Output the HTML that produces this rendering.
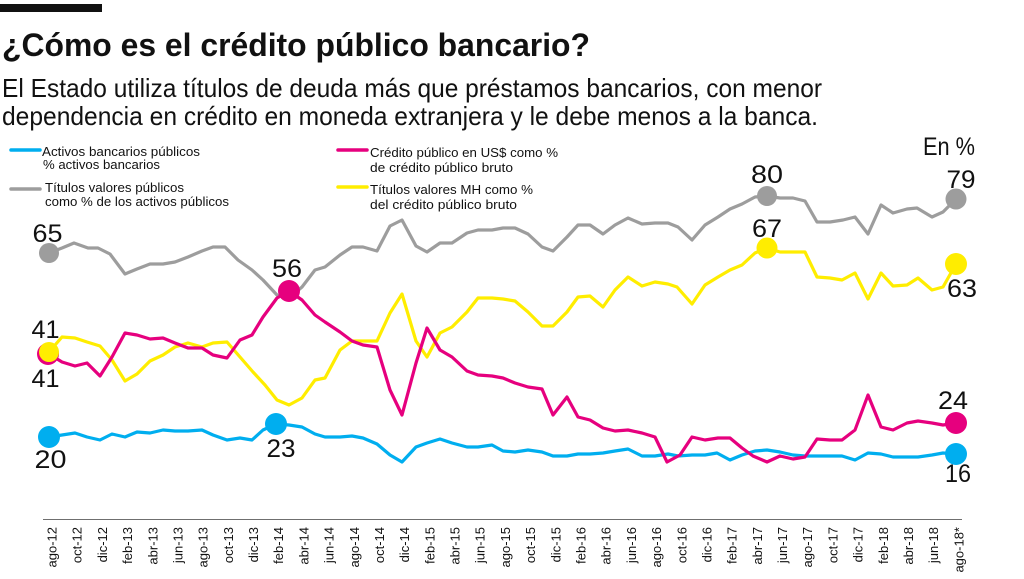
<!DOCTYPE html>
<html>
<head>
<meta charset="utf-8">
<style>
  html, body { margin: 0; padding: 0; background: #fff; }
  body { width: 1024px; height: 579px; overflow: hidden; }
  svg { display: block; }
  text { font-family: "Liberation Sans", "DejaVu Sans", sans-serif; fill: #111; }
</style>
</head>
<body>
<svg width="1024" height="579" viewBox="0 0 1024 579" xmlns="http://www.w3.org/2000/svg">
  <rect x="0" y="0" width="1024" height="579" fill="#fff"/>
  <!-- top bar -->
  <rect x="0" y="4" width="102" height="8" fill="#111"/>

  <!-- title -->
  <text x="2" y="56" font-size="32" font-weight="bold" textLength="588" lengthAdjust="spacingAndGlyphs">¿Cómo es el crédito público bancario?</text>
  <!-- subtitle -->
  <text x="2" y="97" font-size="26" fill="#1a1a1a" textLength="820" lengthAdjust="spacingAndGlyphs">El Estado utiliza títulos de deuda más que préstamos bancarios, con menor</text>
  <text x="2" y="125" font-size="26" fill="#1a1a1a" textLength="816" lengthAdjust="spacingAndGlyphs">dependencia en crédito en moneda extranjera y le debe menos a la banca.</text>

  <text x="923" y="155" font-size="25" textLength="52" lengthAdjust="spacingAndGlyphs">En %</text>

  <!-- legend -->
  <line x1="11" y1="150" x2="40" y2="150" stroke="#00aeef" stroke-width="3.5" stroke-linecap="round"/>
  <line x1="11" y1="189" x2="40" y2="189" stroke="#9d9d9d" stroke-width="3.5" stroke-linecap="round"/>
  <line x1="338" y1="150" x2="367" y2="150" stroke="#e6007e" stroke-width="3.5" stroke-linecap="round"/>
  <line x1="338" y1="187" x2="367" y2="187" stroke="#ffed00" stroke-width="3.5" stroke-linecap="round"/>

  <g font-size="13">
    <text x="42" y="156" textLength="158" lengthAdjust="spacingAndGlyphs">Activos bancarios públicos</text>
    <text x="43" y="169" textLength="117" lengthAdjust="spacingAndGlyphs">% activos bancarios</text>
    <text x="45" y="192" textLength="139" lengthAdjust="spacingAndGlyphs">Títulos valores públicos</text>
    <text x="45" y="206" textLength="184" lengthAdjust="spacingAndGlyphs">como % de los activos públicos</text>
    <text x="370" y="157" textLength="188" lengthAdjust="spacingAndGlyphs">Crédito público en US$ como %</text>
    <text x="370" y="172" textLength="143" lengthAdjust="spacingAndGlyphs">de crédito público bruto</text>
    <text x="370" y="194" textLength="163" lengthAdjust="spacingAndGlyphs">Títulos valores MH como %</text>
    <text x="370" y="209" textLength="147" lengthAdjust="spacingAndGlyphs">del crédito público bruto</text>
  </g>

  <!-- series -->
  <g fill="none" stroke-width="3.2" stroke-linejoin="round" stroke-linecap="round">
    <polyline stroke="#9d9d9d" points="49,253 62,248 74,243 88,248 98,248 110,254 125,274 137,269 150,264 163,264 175,262 188,257 202,251 213,247 225,247 238,260 252,270 263,280 277,295 289,298 302,287 315,270 325,267 340,255 352,247 363,247 377,251 390,226 402,220 416,246 427,252 440,243 452,243 467,233 478,230 492,230 503,228 515,228 528,234 542,247 553,251 567,237 578,225 590,225 603,234 615,225 628,218 642,224 655,223 668,223 678,227 692,240 705,225 718,217 730,209 742,204 755,197 767,196 780,198 793,198 805,201 817,222 830,222 843,220 855,217 868,234 881,205 893,213 907,209 917,208 932,217 943,212 956,199"/>
    <polyline stroke="#00aeef" points="49,437 62,435 75,433 87,437 100,440 112,434 125,437 137,432 150,433 163,430 175,431 188,431 202,430 213,435 227,440 240,438 252,440 263,430 276,424 289,425 302,427 315,434 325,437 340,437 352,436 363,438 377,444 390,455 402,462 416,447 427,443 440,439 452,443 467,447 478,447 492,445 503,451 515,452 528,450 542,452 553,456 567,456 578,454 590,454 603,453 615,451 628,449 642,456 655,456 668,454 678,456 692,455 705,455 717,453 730,460 742,455 755,451 767,450 780,452 793,455 805,456 817,456 830,456 842,456 855,460 868,453 881,454 893,457 907,457 918,457 932,455 943,453 956,454"/>
    <polyline stroke="#ffed00" points="49,352 62,337 75,338 87,342 100,346 112,360 125,381 137,374 150,361 163,355 175,347 188,343 202,347 213,343 227,342 240,357 253,372 265,385 277,400 289,405 302,398 315,380 325,378 340,350 352,341 363,341 377,341 390,313 402,294 416,341 427,357 440,333 452,327 467,312 478,298 492,298 503,299 515,301 528,312 542,326 553,326 567,312 578,297 590,296 603,307 615,290 628,277 642,286 655,282 668,284 677,287 692,304 705,285 718,277 730,270 742,265 755,253 767,248 780,252 793,252 805,252 817,277 830,278 842,280 855,273 868,299 881,273 893,286 907,285 918,278 932,290 943,287 956,264"/>
    <polyline stroke="#e6007e" points="49,354 62,362 75,366 87,363 100,376 112,357 125,333 137,335 150,339 163,338 175,343 188,348 202,348 213,355 227,358 240,340 252,335 263,317 277,298 289,291 302,300 315,315 325,322 340,332 352,341 363,345 377,347 390,390 402,415 416,363 427,328 440,350 452,357 467,371 478,375 492,376 503,378 515,383 528,387 542,389 553,415 567,397 578,417 590,420 603,428 615,431 628,430 642,433 655,437 667,462 680,455 692,437 705,440 718,438 730,438 742,448 753,456 767,462 780,456 793,459 805,457 817,439 830,440 842,440 855,430 868,395 881,427 893,430 907,423 918,421 932,423 943,425 956,423"/>
  </g>

  <!-- markers -->
  <circle cx="49" cy="253" r="10" fill="#9d9d9d"/>
  <circle cx="767" cy="196" r="10" fill="#9d9d9d"/>
  <circle cx="956" cy="199" r="10.5" fill="#9d9d9d"/>
  <circle cx="48" cy="354" r="11" fill="#e6007e"/>
  <circle cx="49" cy="352" r="10" fill="#ffed00"/>
  <circle cx="289" cy="291" r="11" fill="#e6007e"/>
  <circle cx="767" cy="248" r="10.5" fill="#ffed00"/>
  <circle cx="956" cy="264" r="11" fill="#ffed00"/>
  <circle cx="956" cy="423" r="11" fill="#e6007e"/>
  <circle cx="49" cy="437" r="11" fill="#00aeef"/>
  <circle cx="276" cy="424" r="11" fill="#00aeef"/>
  <circle cx="956" cy="454" r="11" fill="#00aeef"/>

  <!-- value labels -->
  <g font-size="25" text-anchor="middle">
    <text x="47.5" y="242" textLength="30" lengthAdjust="spacingAndGlyphs">65</text>
    <text x="45.5" y="338" textLength="28" lengthAdjust="spacingAndGlyphs">41</text>
    <text x="45.5" y="387" textLength="28" lengthAdjust="spacingAndGlyphs">41</text>
    <text x="50.5" y="468" textLength="32" lengthAdjust="spacingAndGlyphs">20</text>
    <text x="287" y="277" textLength="30" lengthAdjust="spacingAndGlyphs">56</text>
    <text x="281" y="457" textLength="29" lengthAdjust="spacingAndGlyphs">23</text>
    <text x="767" y="183" textLength="32" lengthAdjust="spacingAndGlyphs">80</text>
    <text x="961" y="188" textLength="29" lengthAdjust="spacingAndGlyphs">79</text>
    <text x="767" y="237" textLength="30" lengthAdjust="spacingAndGlyphs">67</text>
    <text x="962" y="297" textLength="30" lengthAdjust="spacingAndGlyphs">63</text>
    <text x="953" y="409" textLength="30" lengthAdjust="spacingAndGlyphs">24</text>
    <text x="958" y="482" textLength="26" lengthAdjust="spacingAndGlyphs">16</text>
  </g>

  <!-- x axis -->
  <line x1="43" y1="519.5" x2="962" y2="519.5" stroke="#6f6f6f" stroke-width="1"/>
  <g font-size="13" text-anchor="end" fill="#222">
    <text transform="translate(56.5,527) rotate(-90)">ago-12</text>
    <text transform="translate(81.7,527) rotate(-90)">oct-12</text>
    <text transform="translate(106.9,527) rotate(-90)">dic-12</text>
    <text transform="translate(132.1,527) rotate(-90)">feb-13</text>
    <text transform="translate(157.3,527) rotate(-90)">abr-13</text>
    <text transform="translate(182.5,527) rotate(-90)">jun-13</text>
    <text transform="translate(207.6,527) rotate(-90)">ago-13</text>
    <text transform="translate(232.8,527) rotate(-90)">oct-13</text>
    <text transform="translate(258.0,527) rotate(-90)">dic-13</text>
    <text transform="translate(283.2,527) rotate(-90)">feb-14</text>
    <text transform="translate(308.4,527) rotate(-90)">abr-14</text>
    <text transform="translate(333.6,527) rotate(-90)">jun-14</text>
    <text transform="translate(358.8,527) rotate(-90)">ago-14</text>
    <text transform="translate(384.0,527) rotate(-90)">oct-14</text>
    <text transform="translate(409.2,527) rotate(-90)">dic-14</text>
    <text transform="translate(434.4,527) rotate(-90)">feb-15</text>
    <text transform="translate(459.5,527) rotate(-90)">abr-15</text>
    <text transform="translate(484.7,527) rotate(-90)">jun-15</text>
    <text transform="translate(509.9,527) rotate(-90)">ago-15</text>
    <text transform="translate(535.1,527) rotate(-90)">oct-15</text>
    <text transform="translate(560.3,527) rotate(-90)">dic-15</text>
    <text transform="translate(585.5,527) rotate(-90)">feb-16</text>
    <text transform="translate(610.7,527) rotate(-90)">abr-16</text>
    <text transform="translate(635.9,527) rotate(-90)">jun-16</text>
    <text transform="translate(661.1,527) rotate(-90)">ago-16</text>
    <text transform="translate(686.3,527) rotate(-90)">oct-16</text>
    <text transform="translate(711.4,527) rotate(-90)">dic-16</text>
    <text transform="translate(736.6,527) rotate(-90)">feb-17</text>
    <text transform="translate(761.8,527) rotate(-90)">abr-17</text>
    <text transform="translate(787.0,527) rotate(-90)">jun-17</text>
    <text transform="translate(812.2,527) rotate(-90)">ago-17</text>
    <text transform="translate(837.4,527) rotate(-90)">oct-17</text>
    <text transform="translate(862.6,527) rotate(-90)">dic-17</text>
    <text transform="translate(887.8,527) rotate(-90)">feb-18</text>
    <text transform="translate(913.0,527) rotate(-90)">abr-18</text>
    <text transform="translate(938.2,527) rotate(-90)">jun-18</text>
    <text transform="translate(963.4,527) rotate(-90)">ago-18*</text>
  </g>
</svg>
</body>
</html>
